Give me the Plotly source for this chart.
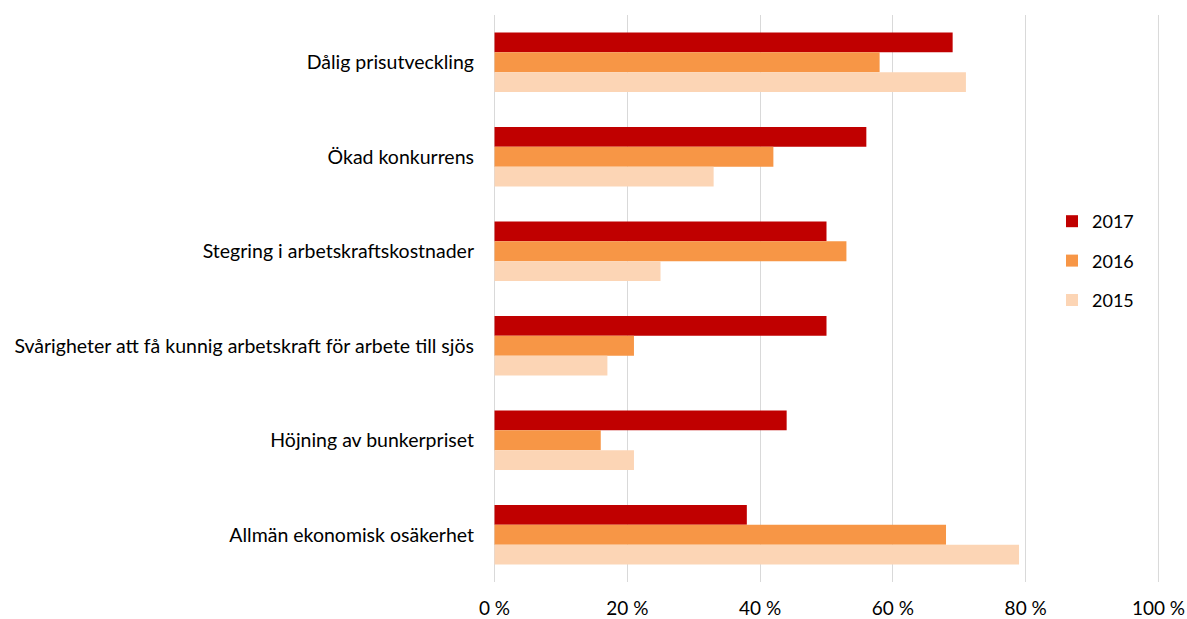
import plotly.graph_objects as go

categories = [
    "Dålig prisutveckling",
    "Ökad konkurrens",
    "Stegring i arbetskraftskostnader",
    "Svårigheter att få kunnig arbetskraft för arbete till sjös",
    "Höjning av bunkerpriset",
    "Allmän ekonomisk osäkerhet",
]
years = ["2017", "2016", "2015"]
values_2017 = [69, 56, 50, 50, 44, 38]
values_2016 = [58, 42, 53, 21, 16, 68]
values_2015 = [71, 33, 25, 17, 21, 79]
tick_values = [0, 20, 40, 60, 80, 100]
tick_labels = ["0 %", "20 %", "40 %", "60 %", "80 %", "100 %"]

colors = ["#C00000", "#F79646", "#FCD5B5"]
series = [values_2017, values_2016, values_2015]

FONT = "Lato, Carlito, Calibri, sans-serif"
GRID = "#D9D9D9"

W, H = 1187, 619
ML, MR, MT, MB = 494, 28, 15, 37
plot_w = W - ML - MR
plot_h = H - MT - MB

fig = go.Figure()

# gridlines at the two ends of the value range (plotly skips those at the plot edges)
for v in (tick_values[0], tick_values[-1]):
    fig.add_shape(type="line", xref="x", yref="paper", x0=v, x1=v, y0=0, y1=1,
                  line=dict(color=GRID, width=1), layer="below")

for name, vals, col in zip(years, series, colors):
    fig.add_trace(go.Bar(
        y=categories,
        x=vals,
        name=name,
        orientation="h",
        marker=dict(color=col, line=dict(width=0)),
        legendgroup=name,
    ))

fig.update_layout(
    width=W,
    height=H,
    margin=dict(l=ML, r=MR, t=MT, b=MB, autoexpand=False),
    paper_bgcolor="white",
    plot_bgcolor="white",
    barmode="group",
    bargap=0.37,
    bargroupgap=0,
    font=dict(family=FONT, size=18, color="#000000"),
    showlegend=True,
    legend=dict(
        x=(1052 - ML) / plot_w, xanchor="left",
        y=(H - MB - 261) / plot_h, yanchor="middle",
        font=dict(family=FONT, size=18, color="#000000"),
        traceorder="grouped",
        tracegroupgap=13,
        bgcolor="rgba(0,0,0,0)",
    ),
    xaxis=dict(
        range=[-0.08, 100.08],
        tickvals=tick_values,
        ticktext=tick_labels,
        showgrid=True,
        gridcolor=GRID,
        gridwidth=1,
        zeroline=False,
        showline=False,
        ticks="",
        ticklabelstandoff=13,
        tickfont=dict(family=FONT, size=19, color="#000000"),
        automargin=False,
        fixedrange=True,
    ),
    yaxis=dict(
        categoryorder="array",
        categoryarray=categories,
        autorange="reversed",
        showgrid=False,
        zeroline=False,
        showline=False,
        ticks="",
        ticklabelstandoff=19,
        tickfont=dict(family=FONT, size=19.5, color="#000000"),
        automargin=False,
        fixedrange=True,
    ),
)

fig.write_html("out.html")
